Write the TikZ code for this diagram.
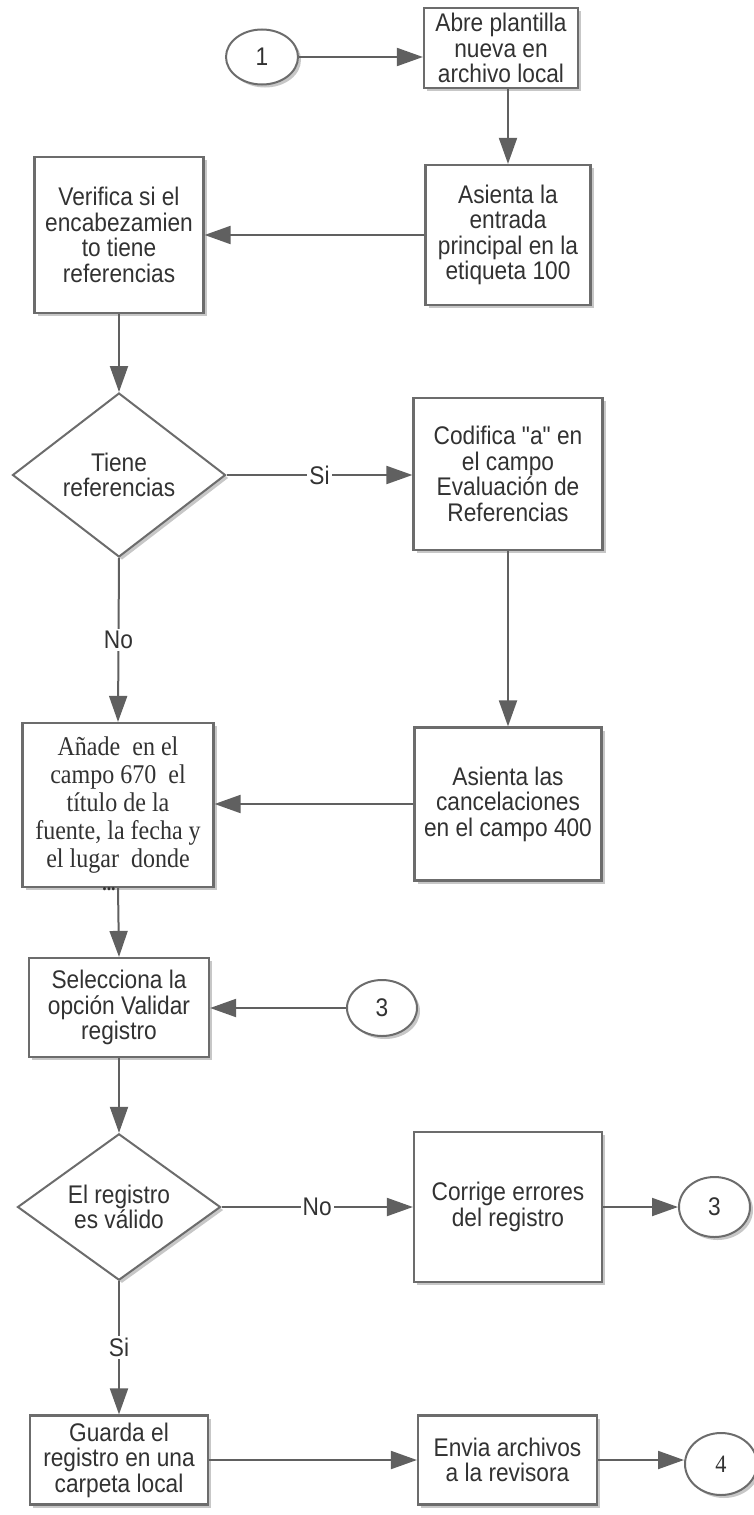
\documentclass[tikz,border=0pt]{standalone}
\usepackage{fontspec}
\setmainfont{Liberation Sans}
\newfontfamily\sansface{Liberation Sans}[FakeStretch=0.89]
\newfontfamily\serifface{Liberation Serif}[FakeStretch=0.89]
\usetikzlibrary{arrows.meta,shapes.geometric,shadows}

\definecolor{linegray}{RGB}{96,96,96}
\definecolor{edgegray}{RGB}{108,108,108}
\definecolor{inkgray}{RGB}{50,50,50}

\tikzset{
  shade/.style={drop shadow={shadow xshift=3pt,shadow yshift=-3pt,opacity=0.22,fill=black}},
  boxfont/.style={font=\sansface\fontsize{25.5}{25.5}\selectfont},
  stepbox/.style={draw=edgegray,line width=2.2pt,fill=white,shade,
    align=center,text=inkgray,inner sep=0pt,boxfont},
  decision/.style={diamond,draw=edgegray,line width=2pt,fill=white,shade,
    align=center,text=inkgray,inner sep=0pt,boxfont},
  connector/.style={ellipse,draw=edgegray,line width=2pt,fill=white,shade,
    text=inkgray,inner sep=0pt,boxfont},
  flow/.style={draw=linegray,line width=2pt,
    -{Triangle[length=26pt,width=18pt]}},
  tag/.style={fill=white,text=inkgray,inner sep=2pt,boxfont}
}

\begin{document}
\begin{tikzpicture}[x=1pt,y=-1pt]
\useasboundingbox (0,0) rectangle (754,1515);

% right column
\node[connector,minimum width=72pt,minimum height=55pt] (c1) at (262,57) {1};
\node[stepbox,minimum width=154pt,minimum height=80pt] (abre) at (501,48)
  {Abre plantilla\\nueva en\\archivo local};
\node[stepbox,minimum width=165pt,minimum height=140pt] (asienta) at (508,235)
  {Asienta la\\entrada\\principal en la\\etiqueta 100};
\node[stepbox,minimum width=189pt,minimum height=152pt] (codifica) at (508,474)
  {Codifica "a" en\\el campo\\Evaluación de\\Referencias};
\node[stepbox,minimum width=187pt,minimum height=153pt] (cancel) at (508,804)
  {Asienta las\\cancelaciones\\en el campo 400};
\node[stepbox,minimum width=188pt,minimum height=150pt] (corrige) at (508,1207)
  {Corrige errores\\del registro};
\node[connector,minimum width=71pt,minimum height=60pt] (c3b) at (714.5,1207) {3};
\node[stepbox,minimum width=179pt,minimum height=89pt] (envia) at (507.5,1460)
  {Envia archivos\\a la revisora};
\node[connector,minimum width=72pt,minimum height=62pt,
  font=\serifface\fontsize{25}{25}\selectfont] (c4) at (721,1464) {4};

% left column
\node[stepbox,minimum width=169pt,minimum height=156pt] (verifica) at (119,235)
  {Verifica si el\\encabezamien\\to tiene\\referencias};
\node[decision,minimum width=213pt,minimum height=164pt] (d1) at (119,475)
  {Tiene\\referencias};
\node[stepbox,minimum width=191pt,minimum height=164pt,
  font=\serifface\fontsize{27}{28}\selectfont] (anade) at (118,805)
  {Añade\ \ en el\\campo 670\ \ el\\título de la\\fuente, la fecha y\\el lugar\ \ donde};
\node[stepbox,minimum width=180pt,minimum height=99pt] (selecciona) at (119,1007.5)
  {Selecciona la\\opción Validar\\registro};
\node[connector,minimum width=70pt,minimum height=56pt] (c3a) at (382,1008) {3};
\node[decision,minimum width=203pt,minimum height=145pt] (d2) at (119,1207)
  {El registro\\es\ válido};
\node[stepbox,minimum width=178pt,minimum height=89pt] (guarda) at (119,1460)
  {Guarda el\\registro en una\\carpeta local};

% connectors
\draw[flow] (c1.east) -- (c1.east -| abre.west);
\draw[flow] (abre.south -| asienta.north) -- (asienta.north);
\draw[flow] (asienta.west) -- (asienta.west -| verifica.east);
\draw[flow] (verifica.south) -- (d1.north);
\draw[flow] (d1.east) -- node[tag] {Si} (d1.east -| codifica.west);
\draw[flow] (codifica.south) -- (cancel.north);
\draw[flow] (cancel.west) -- (cancel.west -| anade.east);
\draw[flow] (d1.south) -- node[tag] {No} (anade.north);
\draw[flow] (anade.south) -- (selecciona.north);
\node[text=inkgray,inner sep=0pt,font=\serifface\bfseries\fontsize{20}{20}\selectfont]
  (dots) at (109,889) {...};
\draw[flow] (c3a.west) -- (c3a.west -| selecciona.east);
\draw[flow] (selecciona.south) -- (d2.north);
\draw[flow] (d2.east) -- node[tag] {No} (d2.east -| corrige.west);
\draw[flow] (corrige.east) -- (c3b.west);
\draw[flow] (d2.south) -- node[tag] {Si} (guarda.north);
\draw[flow] (guarda.east) -- (guarda.east -| envia.west);
\draw[flow] (envia.east) -- (envia.east -| c4.west);
\end{tikzpicture}
\end{document}
